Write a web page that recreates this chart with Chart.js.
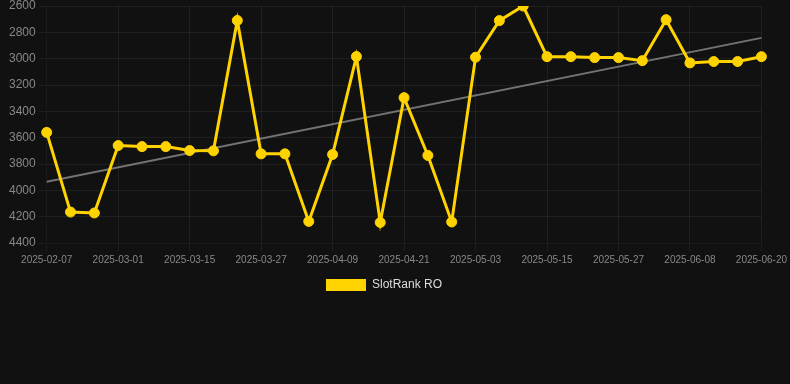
<!DOCTYPE html>
<html>
<head>
<meta charset="utf-8">
<script src="https://cdn.jsdelivr.net/npm/chart.js@4.4.1/dist/chart.umd.min.js"></script>
<style>
    html, body { margin: 0; padding: 0; background: #111111; }
    #wrap { width: 790px; height: 301px; position: relative; }
</style>
</head>
<body>
<div id="wrap"><canvas id="rankChart"></canvas></div>
<script>
    // Dates (every third one shows as a tick label)
    var dates = [
        '2025-02-07', '2025-02-15', '2025-02-22', '2025-03-01', '2025-03-05', '2025-03-10',
        '2025-03-15', '2025-03-19', '2025-03-23', '2025-03-27', '2025-03-31', '2025-04-05',
        '2025-04-09', '2025-04-13', '2025-04-17', '2025-04-21', '2025-04-25', '2025-04-29',
        '2025-05-03', '2025-05-07', '2025-05-11', '2025-05-15', '2025-05-19', '2025-05-23',
        '2025-05-27', '2025-05-31', '2025-06-04', '2025-06-08', '2025-06-12', '2025-06-16',
        '2025-06-20'
    ];

    // SlotRank RO position
    var rankValues = [
        3560, 4165, 4172, 3660, 3668, 3668,
        3698, 3700, 2710, 3723, 3723, 4236,
        3728, 2984, 4244, 3296, 3735, 4240,
        2989, 2711, 2600, 2985, 2985, 2992,
        2992, 3015, 2704, 3032, 3022, 3022,
        2985
    ];

    // Trend line end values (first and last date)
    var trendValues = [3935, 2842];

    var yTicks = { min: 2600, max: 4400, step: 200 };

    Chart.defaults.font.family = 'Arial, "Liberation Sans", sans-serif';

    var ctx = document.getElementById('rankChart').getContext('2d');
    var rankChart = new Chart(ctx, {
        type: 'line',
        data: {
            labels: dates,
            datasets: [{
                label: 'SlotRank RO',
                data: rankValues,
                borderColor: '#FFD300',
                backgroundColor: '#FFD300',
                borderWidth: 3,
                pointRadius: 5,
                pointHoverRadius: 6,
                pointBorderWidth: 1,
                tension: 0,
                fill: false
            }, {
                label: 'trend',
                data: [
                    { x: dates[0], y: trendValues[0] },
                    { x: dates[dates.length - 1], y: trendValues[1] }
                ],
                borderColor: 'rgba(140, 140, 140, 0.8)',
                borderWidth: 2,
                pointRadius: 0,
                fill: false
            }]
        },
        options: {
            responsive: true,
            maintainAspectRatio: false,
            animation: false,
            layout: {
                autoPadding: false,
                padding: { left: 6, right: 28, top: 0, bottom: 0 }
            },
            plugins: {
                legend: {
                    position: 'bottom',
                    labels: {
                        color: '#dddddd',
                        font: { size: 12 },
                        boxWidth: 40,
                        generateLabels: function (chart) {
                            var items = Chart.defaults.plugins.legend.labels.generateLabels(chart);
                            return items
                                .filter(function (item) { return item.text !== 'trend'; })
                                .map(function (item) {
                                    item.lineWidth = 0;
                                    return item;
                                });
                        }
                    }
                },
                tooltip: { enabled: false }
            },
            scales: {
                x: {
                    grid: { color: 'rgba(255, 255, 255, 0.06)' },
                    ticks: {
                        color: '#888888',
                        font: { size: 10 },
                        maxRotation: 0,
                        autoSkip: true,
                        callback: function (val, i) {
                            return i % 3 === 0 ? this.getLabelForValue(val) : null;
                        }
                    }
                },
                y: {
                    reverse: true,
                    min: yTicks.min,
                    max: yTicks.max,
                    grid: { color: 'rgba(255, 255, 255, 0.06)' },
                    ticks: {
                        color: '#888888',
                        font: { size: 12, lineHeight: 0.5 },
                        stepSize: yTicks.step,
                        callback: function (val) {
                            return String(val);
                        }
                    }
                }
            }
        }
    });
</script>
</body>
</html>
